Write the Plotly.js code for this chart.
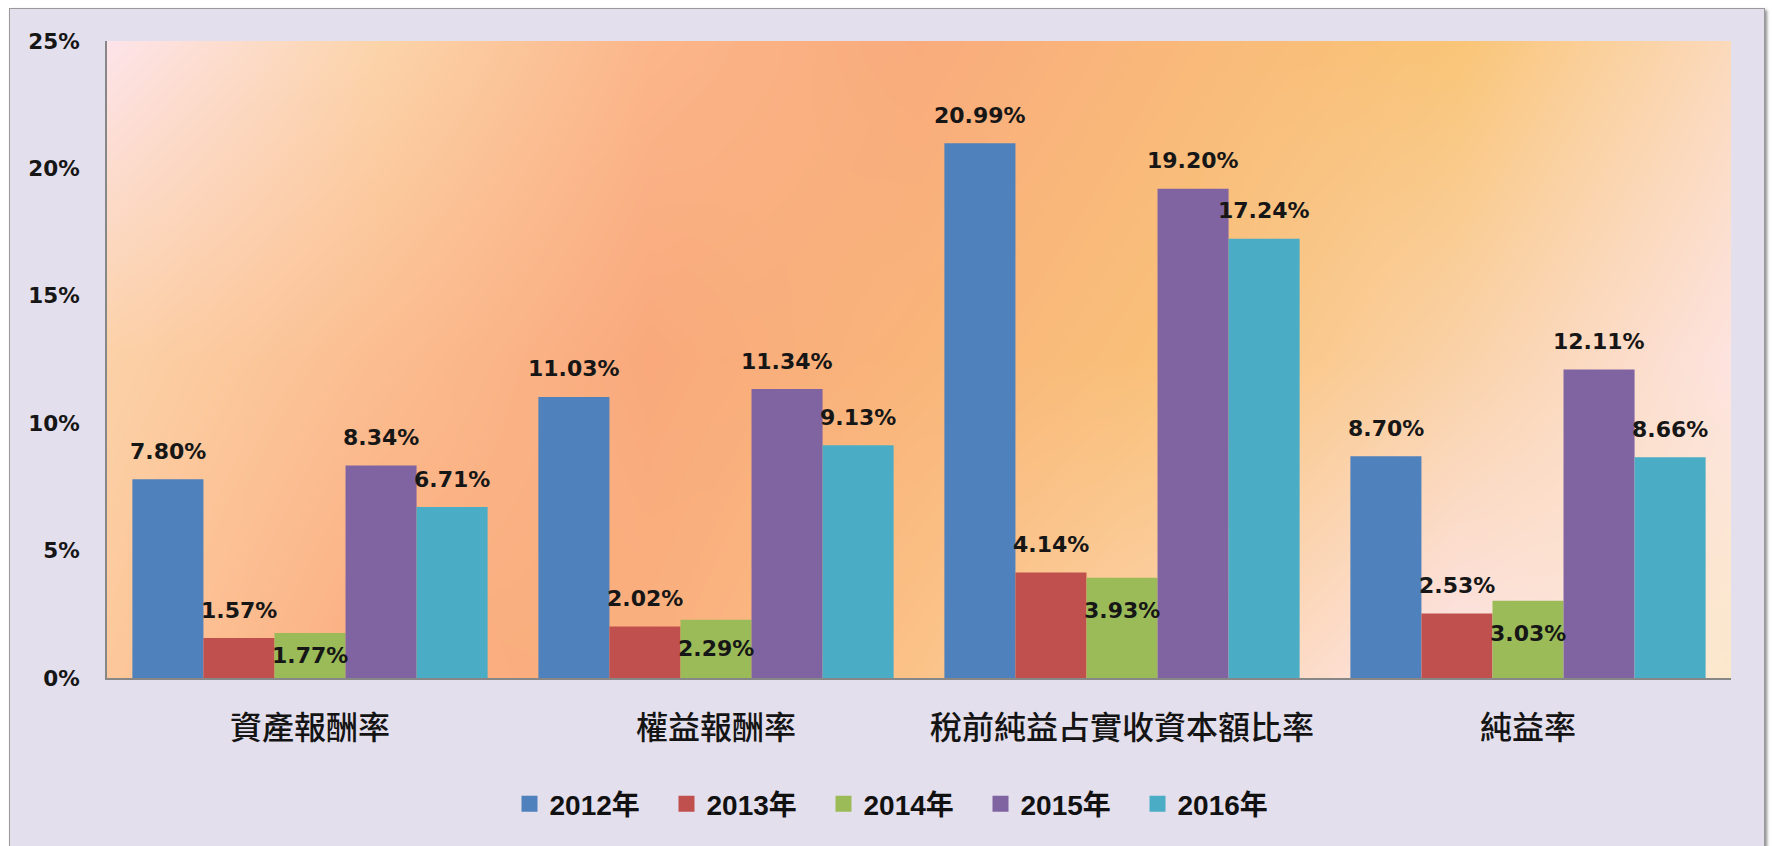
<!DOCTYPE html>
<html>
<head>
<meta charset="utf-8">
<script src="https://cdn.plot.ly/plotly-3.0.1.min.js"></script>
<style>
  html, body { margin: 0; padding: 0; background: #ffffff; width: 1772px; height: 846px; overflow: hidden; }
  #frame { position: absolute; left: 9px; top: 8px; width: 1754px; height: 870px; background: #e4dfec;
           border: 1px solid #9a9a9a; box-shadow: 2px 2px 3px rgba(0,0,0,0.45); }
  #chart { position: absolute; left: 0; top: 0; width: 1772px; height: 846px; }
</style>
</head>
<body>
<div id="frame"></div>
<div id="chart"></div>
<script>
// ---- data ----
const categories = ['資產報酬率', '權益報酬率', '稅前純益占實收資本額比率', '純益率'];
const seriesNames = ['2012年', '2013年', '2014年', '2015年', '2016年'];
const v2012 = [7.80, 11.03, 20.99, 8.70];
const v2013 = [1.57, 2.02, 4.14, 2.53];
const v2014 = [1.77, 2.29, 3.93, 3.03];
const v2015 = [8.34, 11.34, 19.20, 12.11];
const v2016 = [6.71, 9.13, 17.24, 8.66];
const yTickVals = [0, 5, 10, 15, 20, 25];

// ---- style ----
const seriesValues = [v2012, v2013, v2014, v2015, v2016];
const colors = ['#4f81bd', '#c0504d', '#9bbb59', '#8064a2', '#4bacc6'];
const insideLabelSeries = 2; // 2014 labels sit inside the bar top
const BARGAP = 0.125;
const labelFont = { family: 'DejaVu Sans, Verdana, sans-serif', size: 22, color: '#161616', weight: 'bold' };

// background gradient colour grid (rows: top, middle, bottom; columns left -> right)
const BG_GRID = [
  ['#fde4ea', '#fcd4aa', '#fbb68a', '#f9ab7c', '#f9b97a', '#f9c577', '#fbd9bb'],
  ['#fcd1a7', '#fbbd90', '#f9a97c', '#f9b57a', '#f9c279', '#fad2a8', '#fde3df'],
  ['#fcc89b', '#fbac7f', '#fab07e', '#fbc388', '#fcd5b1', '#fde5e9', '#fbe8cb']
];

function hexToRgb(h) {
  return [parseInt(h.slice(1, 3), 16), parseInt(h.slice(3, 5), 16), parseInt(h.slice(5, 7), 16)];
}
function makeBackground(w, h) {
  const c = document.createElement('canvas');
  c.width = w; c.height = h;
  const ctx = c.getContext('2d');
  const img = ctx.createImageData(w, h);
  const grid = BG_GRID.map(r => r.map(hexToRgb));
  const R = grid.length, C = grid[0].length;
  for (let y = 0; y < h; y++) {
    const fy = y / (h - 1) * (R - 1);
    const r0 = Math.min(Math.floor(fy), R - 2), ty = fy - r0;
    for (let x = 0; x < w; x++) {
      const fx = x / (w - 1) * (C - 1);
      const c0 = Math.min(Math.floor(fx), C - 2), tx = fx - c0;
      const a = grid[r0][c0], b = grid[r0][c0 + 1], d = grid[r0 + 1][c0], e = grid[r0 + 1][c0 + 1];
      const idx = (y * w + x) * 4;
      for (let k = 0; k < 3; k++) {
        const top = a[k] + (b[k] - a[k]) * tx;
        const bot = d[k] + (e[k] - d[k]) * tx;
        img.data[idx + k] = Math.round(top + (bot - top) * ty);
      }
      img.data[idx + 3] = 255;
    }
  }
  ctx.putImageData(img, 0, 0);
  return c.toDataURL('image/png');
}

const W = 1772, H = 846;
const margin = { l: 107, r: 41, t: 41, b: 168, pad: 0 };
const plotW = W - margin.l - margin.r, plotH = H - margin.t - margin.b;

// bars
const traces = seriesNames.map((name, k) => ({
  type: 'bar',
  name: name,
  x: categories,
  y: seriesValues[k],
  marker: { color: colors[k], line: { width: 0 } },
  showlegend: false,
  hoverinfo: 'skip'
}));
// legend proxies (square swatches)
seriesNames.forEach((name, k) => {
  traces.push({
    type: 'scatter', mode: 'markers', name: name,
    x: [null], y: [null],
    marker: { symbol: 'square', size: 20, color: colors[k] },
    showlegend: true, hoverinfo: 'skip'
  });
});

// data labels, placed on each bar through the category axis
const nS = seriesNames.length;
const barW = (1 - BARGAP) / nS;
const annotations = [];
seriesValues.forEach((vals, k) => {
  const off = -(1 - BARGAP) / 2 + (k + 0.5) * barW;
  vals.forEach((v, i) => {
    const inside = (k === insideLabelSeries);
    annotations.push({
      xref: 'x', yref: 'y',
      x: i + off,
      y: inside ? Math.max(v - 1.3, v / 2) : v,
      yshift: inside ? 0 : 28,
      text: v.toFixed(2) + '%',
      showarrow: false,
      xanchor: 'center', yanchor: 'middle',
      font: labelFont
    });
  });
});

const layout = {
  width: W, height: H,
  margin: margin,
  paper_bgcolor: 'rgba(0,0,0,0)',
  plot_bgcolor: 'rgba(0,0,0,0)',
  barmode: 'group',
  bargap: BARGAP,
  bargroupgap: 0,
  showlegend: true,
  legend: {
    orientation: 'h',
    x: (902 - margin.l) / plotW, xanchor: 'center',
    y: -0.198, yanchor: 'middle',
    font: { family: 'Liberation Sans, Arial, Noto Sans CJK TC, sans-serif', size: 28, color: '#111111', weight: 'bold' },
    bgcolor: 'rgba(0,0,0,0)',
    entrywidth: 112, entrywidthmode: 'pixels',
    itemclick: false, itemdoubleclick: false
  },
  xaxis: {
    type: 'category',
    showline: true, linecolor: '#878787', linewidth: 2,
    ticks: '', showgrid: false, zeroline: false,
    ticklabelstandoff: 21,
    tickfont: { family: 'Noto Sans CJK TC, sans-serif', size: 32, color: '#141414', weight: 500 }
  },
  yaxis: {
    range: [0, 25], tickvals: yTickVals, ticktext: yTickVals.map(t => t + '%'),
    showline: true, linecolor: '#878787', linewidth: 2,
    ticks: '', showgrid: false, zeroline: false,
    ticklabelstandoff: 21,
    tickfont: { family: 'DejaVu Sans, Verdana, sans-serif', size: 21.5, color: '#161616', weight: 'bold' }
  },
  images: [{
    source: makeBackground(plotW, plotH),
    xref: 'paper', yref: 'paper',
    x: 0, y: 1, sizex: 1, sizey: 1,
    xanchor: 'left', yanchor: 'top',
    sizing: 'stretch', layer: 'below'
  }],
  annotations: annotations
};

Plotly.newPlot('chart', traces, layout, { staticPlot: true, displayModeBar: false });
</script>
</body>
</html>
